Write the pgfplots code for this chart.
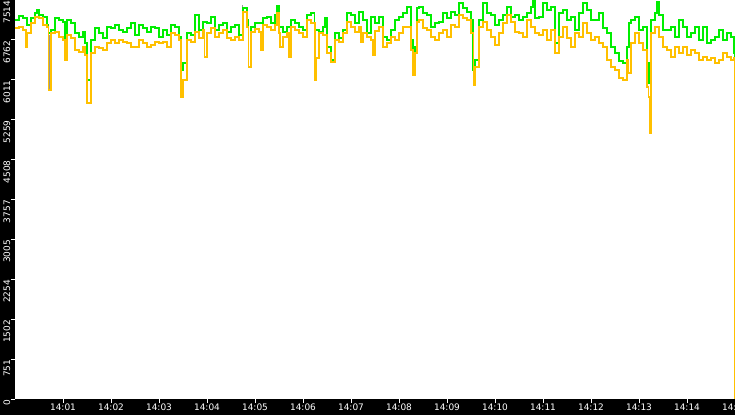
\documentclass[border=0pt]{standalone}
\usepackage{fontspec}
\setmainfont{DejaVu Sans}
\usepackage{pgfplots}
\usepackage{pgfplotstable}
\pgfplotsset{compat=1.18}
\definecolor{cgreen}{RGB}{0,238,0}
\definecolor{corange}{RGB}{255,192,0}
\definecolor{cgray}{RGB}{150,150,150}

\pgfplotstableread{
x y
0 7138
5 7213
10 7175
15 7043
20 7175
25 7269
27.5 7326
30 7232
35 7194
40 7043
41.7 6893
45 6949
50 7175
55 7138
60 7100
62.5 6629
65 7138
70 7081
75 6893
80 6817
85 6911
87.5 6704
90 6008
95 6761
100 6987
105 6893
110 6798
115 7006
120 6987
125 7043
130 6949
135 6911
140 6987
145 7081
150 6855
155 7043
160 6987
165 6911
170 7006
175 6987
180 6817
185 6949
190 6855
195 7043
200 7006
205 6817
207.5 6196
210 6328
215 6893
220 6855
225 7232
230 6949
235 7100
240 7081
245 7194
250 6949
255 7043
260 7081
265 6911
270 7006
275 7043
280 6855
285 7363
290 7138
291.7 6252
295 7006
300 7081
305 7081
310 7175
315 7194
320 7081
325 7232
327.5 7401
330 7006
335 6911
340 7006
345 7138
350 7081
355 7006
360 6949
365 7232
370 7269
374 6516
375 6949
380 6911
385 7006
387.5 7175
390 6629
395 6384
400 6893
405 6798
410 6949
415 7269
420 7232
425 7081
430 7288
435 7138
440 6893
445 7194
450 7081
455 7194
460 6817
465 6761
470 6949
475 7138
480 7194
485 7269
490 7382
495 6761
497.5 6422
500 6629
502.5 7363
505 7382
510 7269
515 7232
520 7006
525 7081
530 7100
535 7269
540 7175
545 7288
550 7232
555 7458
560 7363
565 7288
570 7138
572.5 6196
575 6384
580 7138
585 7458
590 7269
595 7232
600 7043
605 7138
610 7232
615 7382
620 7194
625 7232
630 7138
635 7194
640 7269
645 7382
647.5 7514
650 7175
655 7194
660 7458
665 7326
670 7382
675 6704
680 7269
685 7326
690 7138
695 7194
700 6949
705 7269
710 7458
715 7326
720 7138
725 7138
730 7269
735 6987
740 6893
745 6629
750 6516
755 6365
760 6328
765 6629
767.5 7081
770 7138
775 7194
780 6949
785 7006
790 6328
792.5 5951
795 7138
800 7269
802.5 7476
805 7232
810 6949
815 6949
820 7006
825 6817
830 7138
835 7006
840 6817
845 6893
850 7006
855 6761
860 7006
865 6704
870 6761
875 6817
880 6949
885 6761
890 6893
895 6817
898.75 6516
899.3 3315
900 3315
}\greendata

\pgfplotstableread{
x y
0 6987
5 7006
10 6949
13.75 6629
15 6893
20 7081
25 7194
30 7175
35 7043
40 7006
41.7 5819
45 6893
50 6911
55 6817
60 6761
62.5 6384
65 6855
70 6798
75 6572
80 6535
85 6629
87.5 6478
90 5574
95 6516
100 6629
105 6610
110 6572
115 6704
120 6761
125 6704
130 6761
135 6723
140 6704
145 6629
150 6629
155 6761
160 6704
165 6629
170 6667
175 6723
180 6704
185 6723
190 6629
195 6893
200 6855
205 6761
207.5 5688
210 6008
215 6761
220 6723
225 6911
230 6798
235 6949
236.7 6441
240 6893
245 6987
250 6817
255 6893
260 6949
265 6798
270 6761
275 6817
280 6761
285 7288
290 7006
291.7 6252
295 6911
300 6968
305 6911
307.5 6572
310 7043
315 7006
320 6949
325 7043
327.5 7269
330 6893
331.25 6629
335 6817
340 6893
342.5 6441
345 7006
350 6949
355 6893
360 6817
365 7138
370 7081
375 6008
376.5 6422
380 6893
385 6855
390 6516
395 6347
400 6761
405 6723
410 6893
415 7100
420 7006
425 6911
430 7006
432.5 6723
435 6893
440 6817
445 6761
447.5 6478
450 6930
455 7006
460 6629
465 6704
470 6817
475 6761
480 6893
485 7006
490 7006
495 6572
497.5 6102
500 6516
502.5 7100
505 7138
510 6987
515 6949
520 6817
525 6761
530 6893
535 6949
540 6817
545 7043
550 7006
555 7232
560 7175
565 7138
570 6893
573 5913
575 6252
580 7006
585 7100
590 6949
595 6817
600 6667
605 6893
610 7081
615 7232
620 7100
625 6911
630 6893
635 6817
640 7138
645 7006
650 6893
655 6855
660 6949
665 6761
670 6949
675 6516
680 6817
685 7006
690 6798
695 6629
700 6893
705 6817
710 7081
715 6893
720 6761
725 6817
730 6704
735 6629
740 6384
745 6252
750 6196
755 6045
760 6008
765 6384
766.5 6139
770 6704
775 6893
780 6704
785 6572
790 5876
791.5 5688
793 5010
795 6893
800 7006
805 6817
810 6629
815 6572
820 6441
825 6629
830 6516
835 6629
840 6478
845 6572
850 6516
855 6384
860 6441
865 6384
870 6422
875 6328
880 6384
885 6516
890 6441
895 6384
898.75 6422
899.5 0
900 0
}\orangedata

\begin{document}
\begin{tikzpicture}
\useasboundingbox (0,0) rectangle (735bp,415bp);
\fill[black] (0,0) rectangle (735bp,415bp);
\clip (0,0) rectangle (735bp,415bp);
\begin{axis}[
  at={(15bp,16bp)}, anchor=south west,
  scale only axis, width=720bp, height=399bp,
  xmin=0, xmax=900, ymin=0, ymax=7514,
  axis background/.style={fill=white},
  axis line style={draw=none},
  tick align=outside, major tick length=4bp,
  tick style={white, line width=1bp},
  xtick pos=bottom, ytick pos=left,
  xtick={60,120,180,240,300,360,420,480,540,600,660,720,780,840,900},
  xticklabels={14:01,14:02,14:03,14:04,14:05,14:06,14:07,14:08,14:09,14:10,14:11,14:12,14:13,14:14,14:15},
  ytick={0,751.4,1502.8,2254.2,3005.6,3757,4508.4,5259.8,6011.2,6762.6,7514},
  yticklabels={0,751,1502,2254,3005,3757,4508,5259,6011,6762,7514},
  tick label style={text=white, font=\fontsize{9}{10}\selectfont},
  yticklabel style={rotate=90, anchor=south east, inner sep=0.5bp},
  xticklabel style={anchor=north, inner sep=1bp},
  clip=true,
]
\addplot[cgray, line width=1bp, unbounded coords=jump, forget plot]
  coordinates {(43,6850) (43,5840) (44,nan) (284,7100) (284,7420) (285,nan)};
\addplot[cgreen, line width=1.3bp, const plot] table {\greendata};
\addplot[corange, line width=1.3bp, const plot] table {\orangedata};
\end{axis}
\end{tikzpicture}
\end{document}
